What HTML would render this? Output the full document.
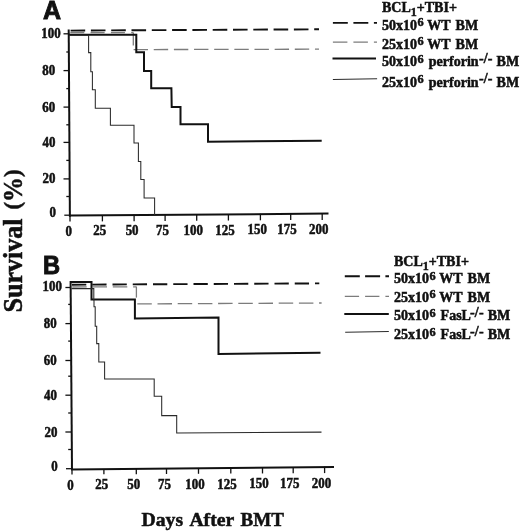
<!DOCTYPE html>
<html><head><meta charset="utf-8">
<style>
html,body{margin:0;padding:0;background:#fff;}
body{width:520px;height:532px;overflow:hidden;}
svg{display:block;filter:grayscale(1);}
.s{font-family:"Liberation Serif",serif;font-weight:bold;fill:#111;stroke:#111;stroke-width:0.5px;}
.h{font-family:"Liberation Sans",sans-serif;font-weight:bold;fill:#111;stroke:#111;stroke-width:0.9px;}
</style></head><body>
<svg width="520" height="532" viewBox="0 0 520 532">
<rect width="520" height="532" fill="#fff"/>
<text class="h" x="42.9" y="19.2" font-size="25">A</text>
<text class="h" x="43" y="273.9" font-size="25" transform="translate(43,273.9) scale(0.95,1) translate(-43,-273.9)">B</text>
<text class="s" font-size="26.5" transform="translate(22,312.5) rotate(-90)" textLength="94.1" lengthAdjust="spacingAndGlyphs">Survival</text>
<text class="s" font-size="24" transform="translate(19.6,209.5) rotate(-90)" textLength="40" lengthAdjust="spacingAndGlyphs">(<tspan font-size="26.5" dy="2.6">%</tspan><tspan dy="-2.6">)</tspan></text>
<g class="s" font-size="19.7"><text x="141.5" y="526.2">Days</text><text x="189.4" y="526.2">After</text><text x="240.5" y="526.2" textLength="43.4" lengthAdjust="spacingAndGlyphs">BMT</text></g>

<!-- PANEL A -->
<g fill="none" stroke="#111" stroke-linecap="butt">
  <line x1="68.7" y1="29.5" x2="69.9" y2="216.8" stroke-width="2"/>
  <line x1="69.3" y1="215.6" x2="328.5" y2="213.6" stroke-width="2"/>
  <g stroke-width="1.3">
    <line x1="63.5" y1="33.8" x2="69" y2="33.8"/>
    <line x1="63.5" y1="70.6" x2="69" y2="70.6"/>
    <line x1="63.5" y1="107.1" x2="69" y2="107.1"/>
    <line x1="63.5" y1="142.4" x2="69" y2="142.4"/>
    <line x1="63.5" y1="178.9" x2="69" y2="178.9"/>
    <line x1="64.3" y1="215.2" x2="69" y2="215.2"/>
    <line x1="66.3" y1="52" x2="69" y2="52"/>
    <line x1="66.3" y1="88.6" x2="69" y2="88.6"/>
    <line x1="66.3" y1="124.8" x2="69" y2="124.8"/>
    <line x1="66.3" y1="160.4" x2="69" y2="160.4"/>
    <line x1="66.3" y1="196.5" x2="69" y2="196.5"/>
  </g>
  <g stroke-width="1.3">
    <line x1="70" y1="215.20" x2="70" y2="221.60"/><line x1="102.4" y1="214.97" x2="102.4" y2="221.38"/><line x1="134.1" y1="214.74" x2="134.1" y2="221.17"/><line x1="165.1" y1="214.52" x2="165.1" y2="220.96"/><line x1="196.7" y1="214.29" x2="196.7" y2="220.75"/><line x1="228.4" y1="214.07" x2="228.4" y2="220.53"/><line x1="260.4" y1="213.84" x2="260.4" y2="220.32"/><line x1="290.7" y1="213.62" x2="290.7" y2="220.11"/><line x1="322.2" y1="213.40" x2="322.2" y2="219.90"/>
  </g>
  <line x1="69" y1="30.6" x2="319" y2="29.3" stroke="#111" stroke-width="1.9" stroke-dasharray="14.6 5.70" stroke-dashoffset="18.70"/>
  <line x1="69.8" y1="32.6" x2="133.3" y2="32.6" stroke="#7c7c7c" stroke-width="1.3" stroke-dasharray="14 6.30" stroke-dashoffset="19.80"/>
  <line x1="133.3" y1="32.6" x2="133.3" y2="49.5" stroke="#7c7c7c" stroke-width="1.3" stroke-dasharray="13 7.20" stroke-dashoffset="0.00"/>
  <line x1="133.3" y1="49.6" x2="319" y2="49.2" stroke="#7c7c7c" stroke-width="1.3" stroke-dasharray="14.4 5.75" stroke-dashoffset="19.85"/>
  <polyline points="69,34.8 136.3,34.8 136.3,52.3 144,52.3 144,71 151.2,71 151.2,88.3 171.4,88.3 171.7,107 180.5,107 180.5,124.3 208,124.3 208,141.8 321.7,140.7" stroke-width="2"/>
  <polyline points="69,35.2 88.6,35.2 88.6,52.6 90.8,52.6 90.8,71.8 92.4,71.8 92.4,89.8 95.3,89.8 95.3,108.3 110.4,108.3 110.4,125.3 134,125.3 134,143 138.4,143 138.4,161.5 140.8,161.5 140.8,179.5 144.1,179.5 144.1,198 154.6,198 154.6,215" stroke="#2a2a2a" stroke-width="1.05"/>
</g>
<g class="s" font-size="13.6">
  <text transform="translate(41.3,38.1) scale(0.95,1)">100</text><text transform="translate(42.3,75.2) scale(0.95,1)">80</text><text transform="translate(42.3,111.7) scale(0.95,1)">60</text><text transform="translate(42.6,146.8) scale(0.95,1)">40</text><text transform="translate(42.6,183) scale(0.95,1)">20</text><text transform="translate(49.6,217.4) scale(0.95,1)">0</text>
  <text text-anchor="middle" transform="translate(68.8,235.6) scale(0.95,1)">0</text><text text-anchor="middle" transform="translate(99.75,235.39) scale(0.95,1)">25</text><text text-anchor="middle" transform="translate(132.1,235.17) scale(0.95,1)">50</text><text text-anchor="middle" transform="translate(162.5,234.97) scale(0.95,1)">75</text><text text-anchor="middle" transform="translate(193.2,234.76) scale(0.95,1)">100</text><text text-anchor="middle" transform="translate(225,234.54) scale(0.95,1)">125</text><text text-anchor="middle" transform="translate(257.3,234.32) scale(0.95,1)">150</text><text text-anchor="middle" transform="translate(287,234.12) scale(0.95,1)">175</text><text text-anchor="middle" transform="translate(318.7,233.9) scale(0.95,1)">200</text>
</g>
<g fill="none" stroke="#111">
  <line x1="332.9" y1="22.9" x2="377" y2="22.9" stroke-width="1.9" stroke-dasharray="14.9 5.6"/>
  <line x1="332.9" y1="42.2" x2="377" y2="42.2" stroke="#7c7c7c" stroke-width="1.3" stroke-dasharray="14.5 6"/>
  <line x1="332.5" y1="58.5" x2="376" y2="58.4" stroke-width="2"/>
  <line x1="332.9" y1="79.5" x2="377.1" y2="78.7" stroke="#2a2a2a" stroke-width="1.05"/>
</g>
<g class="s" font-size="14" word-spacing="0.35">
  <text x="382" y="11.9">BCL<tspan font-size="12" dy="4.3">1</tspan><tspan dy="-4.3">+TBI+</tspan></text>
  <text x="382" y="29.7">50x10<tspan font-size="12.3" dx="0.6" dy="-3.3">6</tspan><tspan dy="3.3"> WT</tspan><tspan dx="1.3"> BM</tspan></text>
  <text x="382" y="48.6">25x10<tspan font-size="12.3" dx="0.6" dy="-3.3">6</tspan><tspan dy="3.3"> WT</tspan><tspan dx="1.3"> BM</tspan></text>
  <text x="382" y="66.1">50x10<tspan font-size="12.3" dx="0.6" dy="-3.3">6</tspan><tspan dy="3.3" dx="1.2"> perforin</tspan><tspan font-size="14" dx="0.3" dy="-3.4" letter-spacing="0.2">-/-</tspan><tspan dy="3.4"> BM</tspan></text>
  <text x="382" y="86.5">25x10<tspan font-size="12.3" dx="0.6" dy="-3.3">6</tspan><tspan dy="3.3" dx="1.2"> perforin</tspan><tspan font-size="14" dx="0.3" dy="-3.4" letter-spacing="0.2">-/-</tspan><tspan dy="3.4"> BM</tspan></text>
</g>

<!-- PANEL B -->
<g fill="none" stroke="#111" stroke-linecap="butt">
  <line x1="70.6" y1="281" x2="72" y2="470" stroke-width="2"/>
  <line x1="71" y1="469.6" x2="334" y2="466.9" stroke-width="2"/>
  <g stroke-width="1.3">
    <line x1="65.4" y1="287.5" x2="71" y2="287.5"/>
    <line x1="65.4" y1="323.6" x2="71" y2="323.6"/>
    <line x1="65.4" y1="360.5" x2="71" y2="360.5"/>
    <line x1="65.4" y1="395.2" x2="71" y2="395.2"/>
    <line x1="65.4" y1="432" x2="71" y2="432"/>
    <line x1="66" y1="468.7" x2="71" y2="468.7"/>
    <line x1="68.2" y1="304.4" x2="71" y2="304.4"/>
    <line x1="68.2" y1="341.1" x2="71" y2="341.1"/>
    <line x1="68.2" y1="376.2" x2="71" y2="376.2"/>
    <line x1="68.2" y1="413" x2="71" y2="413"/>
    <line x1="68.2" y1="449.5" x2="71" y2="449.5"/>
  </g>
  <g stroke-width="1.3">
    <line x1="72" y1="469.20" x2="72" y2="474.50"/><line x1="103.9" y1="468.88" x2="103.9" y2="474.32"/><line x1="136.3" y1="468.56" x2="136.3" y2="474.14"/><line x1="166.5" y1="468.27" x2="166.5" y2="473.98"/><line x1="198.5" y1="467.95" x2="198.5" y2="473.80"/><line x1="230.8" y1="467.63" x2="230.8" y2="473.62"/><line x1="262.5" y1="467.32" x2="262.5" y2="473.45"/><line x1="293.2" y1="467.01" x2="293.2" y2="473.28"/><line x1="324.6" y1="466.70" x2="324.6" y2="473.10"/>
  </g>
  <line x1="71.5" y1="284.7" x2="319.3" y2="283.4" stroke="#111" stroke-width="1.9" stroke-dasharray="14.3 5.95" stroke-dashoffset="19.75"/>
  <line x1="71.5" y1="287" x2="136.4" y2="286.8" stroke="#7c7c7c" stroke-width="1.3" stroke-dasharray="14.5 5.80" stroke-dashoffset="19.60"/>
  <line x1="136.4" y1="286.6" x2="136.4" y2="303.8" stroke="#7c7c7c" stroke-width="1.3" stroke-dasharray="11 9.20" stroke-dashoffset="0.00"/>
  <line x1="136.4" y1="303.9" x2="321.6" y2="303.0" stroke="#7c7c7c" stroke-width="1.3" stroke-dasharray="14.5 5.70" stroke-dashoffset="19.30"/>
  <polyline points="70.6,282 91.5,282 91.5,299.4 134.9,299.4 134.9,318.4 218.5,317.4 218.5,354 320.5,352.7" stroke-width="2"/>
  <polyline points="71.5,288.6 93.8,288.6 93.8,300 94,300 94,306.8 95.2,306.8 95.2,326.3 96.7,326.3 96.7,343.6 98.8,343.6 98.8,362 104.6,362 104.6,379 154.2,379 154.2,396.2 161.7,396.2 161.7,415.6 176.7,415.6 176.7,432.9 321.5,432.1" stroke="#2a2a2a" stroke-width="1.05"/>
</g>
<g class="s" font-size="13.6">
  <text transform="translate(42.6,290.8) scale(0.95,1)">100</text><text transform="translate(43.8,328.4) scale(0.95,1)">80</text><text transform="translate(43.8,364.9) scale(0.95,1)">60</text><text transform="translate(44,399.9) scale(0.95,1)">40</text><text transform="translate(44.6,436.6) scale(0.95,1)">20</text><text transform="translate(51.2,471.1) scale(0.95,1)">0</text>
  <text text-anchor="middle" transform="translate(70.5,489.6) scale(0.95,1)">0</text><text text-anchor="middle" transform="translate(101.7,489.39) scale(0.95,1)">25</text><text text-anchor="middle" transform="translate(133.7,489.17) scale(0.95,1)">50</text><text text-anchor="middle" transform="translate(164.5,488.96) scale(0.95,1)">75</text><text text-anchor="middle" transform="translate(195,488.76) scale(0.95,1)">100</text><text text-anchor="middle" transform="translate(226.9,488.54) scale(0.95,1)">125</text><text text-anchor="middle" transform="translate(258.9,488.32) scale(0.95,1)">150</text><text text-anchor="middle" transform="translate(289.7,488.12) scale(0.95,1)">175</text><text text-anchor="middle" transform="translate(321.5,487.9) scale(0.95,1)">200</text>
</g>
<g fill="none" stroke="#111">
  <line x1="344.8" y1="276.3" x2="389" y2="276.3" stroke-width="1.9" stroke-dasharray="15 5.3"/>
  <line x1="344.8" y1="296.3" x2="389" y2="296.3" stroke="#7c7c7c" stroke-width="1.3" stroke-dasharray="14.3 6"/>
  <line x1="344.3" y1="313.9" x2="388.8" y2="313.9" stroke-width="2"/>
  <line x1="345.2" y1="332.2" x2="388.8" y2="331.5" stroke="#2a2a2a" stroke-width="1.05"/>
</g>
<g class="s" font-size="14" word-spacing="0.35">
  <text x="394" y="266">BCL<tspan font-size="12" dy="4.3">1</tspan><tspan dy="-4.3">+TBI+</tspan></text>
  <text x="394" y="283.2">50x10<tspan font-size="12.3" dx="0.6" dy="-3.3">6</tspan><tspan dy="3.3"> WT</tspan><tspan dx="1.3"> BM</tspan></text>
  <text x="394" y="301.7">25x10<tspan font-size="12.3" dx="0.6" dy="-3.3">6</tspan><tspan dy="3.3"> WT</tspan><tspan dx="1.3"> BM</tspan></text>
  <text x="394" y="320.2">50x10<tspan font-size="12.3" dx="0.6" dy="-3.3">6</tspan><tspan dy="3.3" dx="1.0"> FasL</tspan><tspan font-size="14" dx="-1.0" dy="-3.4" letter-spacing="0.2">-/-</tspan><tspan dy="3.4"> BM</tspan></text>
  <text x="394" y="339">25x10<tspan font-size="12.3" dx="0.6" dy="-3.3">6</tspan><tspan dy="3.3" dx="1.0"> FasL</tspan><tspan font-size="14" dx="-1.0" dy="-3.4" letter-spacing="0.2">-/-</tspan><tspan dy="3.4"> BM</tspan></text>
</g>
</svg>
</body></html>
